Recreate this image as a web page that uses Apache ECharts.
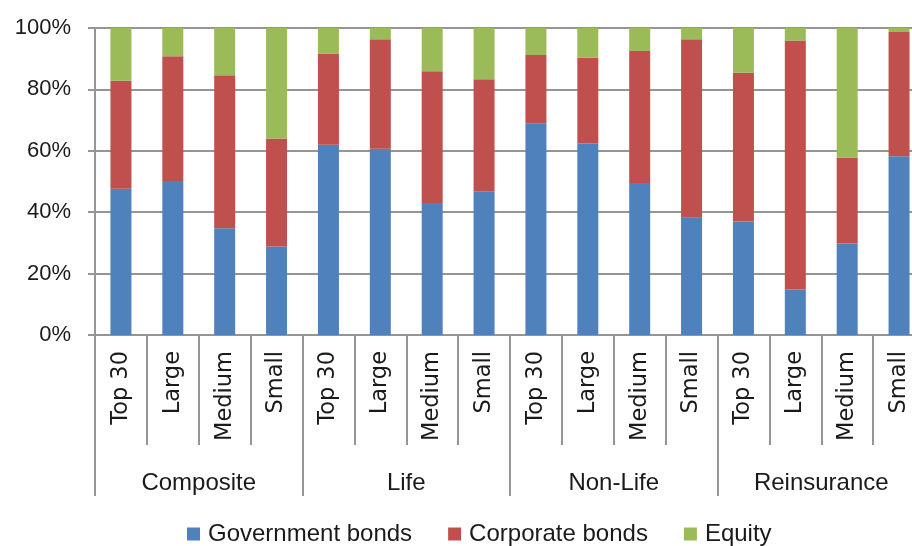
<!DOCTYPE html>
<html>
<head>
<meta charset="utf-8">
<script src="https://cdn.jsdelivr.net/npm/echarts@6/dist/echarts.min.js"></script>
<style>
  html, body { margin: 0; padding: 0; background: #fff; overflow: hidden; }
  #chart { width: 930px; height: 546px; }
</style>
</head>
<body>
<div id="chart"></div>
<script>
// Asset allocation by insurer type and size (share of portfolio, %)
const sizeClasses = ['Top 30', 'Large', 'Medium', 'Small',
                     'Top 30', 'Large', 'Medium', 'Small',
                     'Top 30', 'Large', 'Medium', 'Small',
                     'Top 30', 'Large', 'Medium', 'Small'];
const insurerTypes = ['Composite', 'Life', 'Non-Life', 'Reinsurance'];

const governmentBonds = [47.6, 50.2, 34.8, 28.8, 62.0, 60.7, 43.0, 46.8, 69.0, 62.4, 49.5, 38.2, 37.0, 14.8, 29.8, 58.2];
const corporateBonds  = [35.2, 40.6, 49.8, 35.2, 29.7, 35.6, 42.9, 36.5, 22.2, 27.9, 43.0, 58.1, 48.4, 81.1, 28.0, 40.5];
const equity          = [17.2,  9.2, 15.4, 36.0,  8.3,  3.7, 14.1, 16.7,  8.8,  9.7,  7.5,  3.7, 14.6,  4.1, 42.2,  1.3];

const yTicks = { min: 0, max: 100, interval: 20 };

const gridColor = '#959595';
const textColor = '#1a1a1a';
const sans = '"Liberation Sans", Arial, sans-serif';

const chart = echarts.init(document.getElementById('chart'), null, { renderer: 'canvas' });

chart.setOption({
  animation: false,
  color: ['#4f81bd', '#c0504d', '#9bbb59'],
  grid: { left: 95, top: 28, width: 830, height: 307, containLabel: false },
  legend: {
    data: ['Government bonds', 'Corporate bonds', 'Equity'],
    left: 182,
    top: 517,
    icon: 'rect',
    itemWidth: 13,
    itemHeight: 13,
    itemGap: 36,
    textStyle: { fontFamily: sans, fontSize: 24, color: textColor, padding: [0, 0, 0, 3] }
  },
  xAxis: [
    {
      type: 'category',
      data: sizeClasses,
      position: 'bottom',
      axisLine: { show: true, lineStyle: { color: gridColor, width: 2 } },
      axisTick: { show: true, interval: 0, length: 110, lineStyle: { color: gridColor, width: 2 } },
      axisLabel: {
        interval: 0,
        rotate: 90,
        margin: 16,
        fontFamily: '"DejaVu Sans", Verdana, sans-serif',
        fontSize: 22.5,
        color: textColor
      },
      splitLine: { show: false }
    },
    {
      type: 'category',
      data: insurerTypes,
      position: 'bottom',
      axisLine: { show: false },
      axisTick: { show: true, interval: 0, length: 161, lineStyle: { color: gridColor, width: 2 } },
      axisLabel: {
        interval: 0,
        margin: 136,
        fontFamily: sans,
        fontSize: 24,
        color: textColor
      },
      splitLine: { show: false }
    }
  ],
  yAxis: {
    type: 'value',
    min: yTicks.min,
    max: yTicks.max,
    interval: yTicks.interval,
    axisLine: { show: true, lineStyle: { color: gridColor, width: 2 } },
    axisTick: { show: true, length: 7, lineStyle: { color: gridColor, width: 2 } },
    axisLabel: {
      formatter: '{value}%',
      margin: 24,
      fontFamily: sans,
      fontSize: 22,
      color: textColor
    },
    splitLine: { show: true, lineStyle: { color: gridColor, width: 2 } }
  },
  series: [
    { name: 'Government bonds', type: 'bar', stack: 'total', barWidth: 21, data: governmentBonds, xAxisIndex: 0 },
    { name: 'Corporate bonds',  type: 'bar', stack: 'total', barWidth: 21, data: corporateBonds,  xAxisIndex: 0 },
    { name: 'Equity',           type: 'bar', stack: 'total', barWidth: 21, data: equity,          xAxisIndex: 0 }
  ]
});
</script>
</body>
</html>
